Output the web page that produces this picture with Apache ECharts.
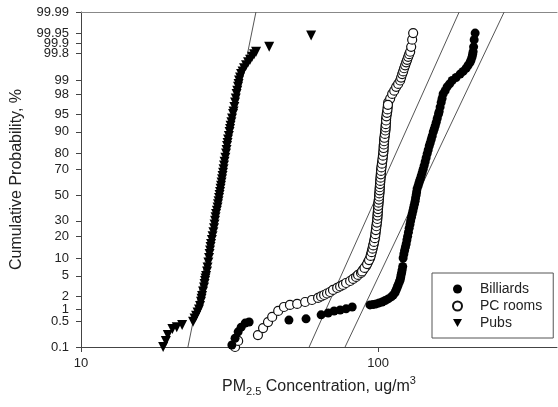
<!DOCTYPE html>
<html>
<head>
<meta charset="utf-8">
<script src="https://cdn.jsdelivr.net/npm/echarts@6/dist/echarts.min.js"></script>
<style>
html,body{margin:0;padding:0;background:#fff;}
#chart{width:558px;height:407px;}
</style>
</head>
<body>
<div id="chart"></div>
<script>
// ---------- data (concentration in ug/m3, cumulative probability in %) ----------
const yTickPct = [0.1,0.2,0.5,1,2,5,10,20,30,50,70,80,90,95,98,99,99.8,99.9,99.95,99.99];
const yTickLabels = ['0.1','0.2','0.5','1','2','5','10','20','30','50','70','80','90','95','98','99','99.8','99.9','99.95','99.99'];
const xMin = 10, xMax = 400;
const yMinPct = 0.1, yMaxPct = 99.99;

const pubsConc = [18.9,19.3,19.6,20.3,21.0,21.9,
  23.83,24.11,24.39,24.68,24.96,25.16,25.35,25.45,25.55,25.75,25.95,26.05,26.15,26.25,26.36,26.56,26.67,26.83,26.98,27.08,27.19,27.29,27.40,27.57,27.72,27.89,28.04,28.15,28.26,28.37,28.48,28.66,28.81,28.92,29.04,29.15,29.26,29.38,29.49,29.61,29.72,29.84,29.95,30.07,30.19,30.30,30.42,30.61,30.78,30.90,31.02,31.14,31.26,31.46,31.63,31.75,31.87,32.07,32.24,32.49,32.62,32.82,33.00,33.18,33.39,33.57,33.78,33.91,34.04,34.30,34.57,34.98,35.39,35.94,36.50,37.07,37.65,38.23,38.83,
  43.0,59.5];
const pubsPct = [0.1,0.15,0.22,0.32,0.36,0.41,
  0.5,0.6,0.7,0.85,1,1.2,1.5,1.75,2,2.5,3,3.5,4,4.5,5,6,7,8.5,10,11.5,13,14.5,16,18,20,22.5,25,27.5,30,32.5,35,37.5,40,42.5,45,47.5,50,52.5,55,57.5,60,62.5,65,67.5,70,72.5,75,77.5,80,82,84,85.5,87,88.5,90,91,92,93,94,95,95.5,96.3,97,97.5,98,98.3,98.6,98.8,99,99.15,99.3,99.4,99.5,99.58,99.65,99.7,99.75,99.79,99.82,
  99.87,99.94];

const pcConc = [33.0,33.8,39.4,41.0,42.6,44.0,46.1,48.2,50.5,53.4,56.8,59.9,62.8,64.3,65.8,67.3,68.9,70.5,72.8,74.5,76.2,78.0,80.5,82.4,84.3,85.6,87.6,89.0,91.1,92.5,
  93.98,94.71,95.45,96.05,96.57,97.18,97.71,98.09,98.47,98.85,99.23,99.46,99.62,99.85,100.0,100.2,100.4,100.7,100.8,101.1,101.2,101.4,101.6,101.8,102.0,102.2,102.4,102.8,103.2,103.6,104.0,104.3,104.4,104.7,104.8,105.2,105.6,105.9,106.0,106.3,106.4,106.9,107.3,107.7,108.1,109.8,111.5,113.3,115.0,116.8,118.6,119.5,120.5,121.4,122.3,123.3,124.3,125.2,126.2,127.2,128.2,129.2,130.2,131.2,
  88.3,90.0,91.8,93.2,94.35,95.1,95.75,96.3,96.9,97.45,97.9,98.3,98.65,99.05,99.35,99.55,99.75,99.92,100.1,100.3,100.55,100.75,100.95,101.15,101.3,101.5,101.7,101.9,102.1,102.3,102.6,103.0,103.4,103.8,104.15,104.35,104.55,104.75,105.0,105.4,105.75,105.95,106.15,106.35,106.65,107.1,107.5,107.9];
const pcPct = [0.1,0.15,0.22,0.34,0.49,0.66,0.92,1.14,1.27,1.34,1.48,1.64,1.82,1.96,2.1,2.26,2.43,2.68,2.94,3.15,3.37,3.68,4.02,4.39,4.78,5.2,5.65,6.37,7.45,8.66,
  10,11.5,13,14.5,16,18,20,22.5,25,27.5,30,32.5,35,37.5,40,42.5,45,47.5,50,52.5,55,57.5,60,62.5,65,67.5,70,72.5,75,77.5,80,82,84,85.5,87,88.5,90,91,92,93,94,95,95.5,96.3,97,97.5,98,98.3,98.6,98.8,99,99.15,99.3,99.4,99.5,99.58,99.65,99.7,99.75,99.79,99.82,99.87,99.92,99.95,
  6.0,6.9,8.0,9.3,10.75,12.25,13.75,15.25,17,19,21.25,23.75,26.25,28.75,31.25,33.75,36.25,38.75,41.25,43.75,46.25,48.75,51.25,53.75,56.25,58.75,61.25,63.75,66.25,68.75,71.25,73.75,76.25,78.75,81,83,84.75,86.25,87.75,89.25,90.5,91.5,92.5,93.5,94.5,95.25,95.9,96.65];

const billiardsConc = [32.2,33.0,33.8,34.6,35.7,36.8,50.1,57.2,64.3,67.9,71.1,74.5,78.0,81.8,
  93.9,96.2,98.5,100.8,103.2,105.6,108.1,110.7,112.4,114.1,115.0,115.9,116.8,117.7,118.6,119.1,119.5,120.0,120.5,121.0,
  121.4,122.1,122.8,123.6,124.3,125.0,125.7,126.5,127.2,128.0,128.7,129.5,130.2,131.0,131.7,132.5,133.2,133.7,134.3,134.8,135.3,136.4,137.4,138.5,139.6,140.7,141.8,142.9,144.0,145.1,146.3,147.4,148.6,149.7,150.9,152.1,153.3,154.5,155.7,156.9,158.1,159.7,160.5,161.7,163.0,164.2,165.5,168.1,170.7,174.0,177.5,183.0,188.8,193.2,197.8,200.9,204.0,205.6,207.2,208.0,208.8,209.6,210.5,212.1];
const billiardsPct = [0.115,0.18,0.27,0.36,0.46,0.49,0.55,0.59,0.74,0.82,0.92,0.97,1.03,1.14,
  1.27,1.30,1.34,1.41,1.48,1.60,1.73,1.91,2.1,2.37,2.68,3.0,3.37,3.77,4.2,4.68,5.2,5.76,6.4,7.31,
  10,11.5,13,14.5,16,18,20,22.5,25,27.5,30,32.5,35,37.5,40,42.5,45,47.5,50,52.5,55,57.5,60,62.5,65,67.5,70,72.5,75,77.5,80,82,84,85.5,87,88.5,90,91,92,93,94,95,95.5,96.3,97,97.5,98,98.3,98.6,98.8,99,99.15,99.3,99.4,99.5,99.58,99.65,99.7,99.75,99.79,99.82,99.87,99.92,99.95];

// fitted reference lines: concentration at 0.1 % and at 99.99 %
const fitPubs = [22.9, 38.8];
const fitPC = [58.6, 187.4];
const fitBilliards = [77.4, 265.6];

// ---------- probit (inverse normal CDF, Acklam) ----------
function probit(p){
  const a=[-3.969683028665376e+01,2.209460984245205e+02,-2.759285104469687e+02,1.383577518672690e+02,-3.066479806614716e+01,2.506628277459239e+00];
  const b=[-5.447609879822406e+01,1.615858368580409e+02,-1.556989798598866e+02,6.680131188771972e+01,-1.328068155288572e+01];
  const c=[-7.784894002430293e-03,-3.223964580411365e-01,-2.400758277161838e+00,-2.549732539343734e+00,4.374664141464968e+00,2.938163982698783e+00];
  const d=[7.784695709041462e-03,3.224671290700398e-01,2.445134137142996e+00,3.754408661907416e+00];
  const pl=0.02425, ph=1-pl; let q,r;
  if(p<pl){q=Math.sqrt(-2*Math.log(p));return (((((c[0]*q+c[1])*q+c[2])*q+c[3])*q+c[4])*q+c[5])/((((d[0]*q+d[1])*q+d[2])*q+d[3])*q+1);}
  if(p<=ph){q=p-0.5;r=q*q;return (((((a[0]*r+a[1])*r+a[2])*r+a[3])*r+a[4])*r+a[5])*q/(((((b[0]*r+b[1])*r+b[2])*r+b[3])*r+b[4])*r+1);}
  q=Math.sqrt(-2*Math.log(1-p));return -(((((c[0]*q+c[1])*q+c[2])*q+c[3])*q+c[4])*q+c[5])/((((d[0]*q+d[1])*q+d[2])*q+d[3])*q+1);
}
const z = pct => probit(pct/100);
const pairs = (xs, ps) => xs.map((x,i)=>[x, z(ps[i])]);
const yTickZ = yTickPct.map(z);
const yLo = z(yMinPct), yHi = z(yMaxPct);
function zLabel(v){
  let best=0, bd=1e9;
  yTickZ.forEach((t,i)=>{const dd=Math.abs(t-v); if(dd<bd){bd=dd;best=i;}});
  return bd<1e-4 ? yTickLabels[best] : '';
}
const fitSeries = f => ({type:'line', data:[[f[0], yLo],[f[1], yHi]], symbol:'none', silent:true,
  lineStyle:{color:'#555', width:1}, z:1});

const font = 'Arial, "Liberation Sans", sans-serif';
const chart = echarts.init(document.getElementById('chart'), null, {renderer:'canvas'});
chart.setOption({
  animation:false,
  backgroundColor:'#fff',
  grid:{left:81, top:12, right:1, bottom:60, containLabel:false},
  legend:{
    orient:'vertical', left:432, top:273,
    padding:[9,11,8,20], itemGap:3, itemWidth:9, itemHeight:9,
    borderColor:'#555', borderWidth:1, backgroundColor:'#fff',
    textStyle:{fontFamily:font, fontSize:14, color:'#222', lineHeight:14, padding:[0,0,0,13]},
    data:[{name:'Billiards'},{name:'PC rooms'},{name:'Pubs', icon:'path://M0,0 L10,0 L5,9 Z'}]
  },
  xAxis:[{
    type:'log', logBase:10, min:xMin, max:xMax,
    name:'{n|PM}{sub|2.5}{n| Concentration, ug/m}{sup|3}',
    nameLocation:'middle', nameGap:32,
    nameTextStyle:{rich:{
      n:{fontFamily:font, fontSize:16, color:'#222', lineHeight:16, padding:[4,0,4,0]},
      sub:{fontFamily:font, fontSize:11, color:'#222', lineHeight:11, padding:[11,0,2,0]},
      sup:{fontFamily:font, fontSize:11, color:'#222', lineHeight:11, padding:[0,0,13,0]}
    }},
    axisLine:{onZero:false, lineStyle:{color:'#444', width:1}},
    axisTick:{length:5, lineStyle:{color:'#444'}},
    minorTick:{show:false},
    axisLabel:{fontFamily:font, fontSize:13, color:'#222', margin:10, showMaxLabel:false,
      formatter:v=>{const l=Math.log10(v); return Math.abs(l-Math.round(l))<1e-6 ? String(Math.round(v)) : '';}},
    splitLine:{show:false}
  },{
    type:'log', logBase:10, min:xMin, max:xMax, position:'top',
    axisLine:{onZero:false, lineStyle:{color:'#888', width:1}},
    axisTick:{show:false}, axisLabel:{show:false}, splitLine:{show:false}
  }],
  yAxis:{
    type:'value', min:yLo-1e-9, max:yHi+1e-9,
    name:'Cumulative Probability, %', nameLocation:'middle', nameGap:56,
    nameTextStyle:{fontFamily:font, fontSize:16, color:'#222'},
    axisLine:{show:true, onZero:false, lineStyle:{color:'#444', width:1}},
    axisTick:{show:true, length:5, lineStyle:{color:'#444'}, customValues:yTickZ},
    axisLabel:{fontFamily:font, fontSize:13, color:'#222', margin:12, customValues:yTickZ, formatter:zLabel,
      showMinLabel:true, showMaxLabel:true, hideOverlap:false},
    splitLine:{show:false}
  },
  series:[
    fitSeries(fitPubs), fitSeries(fitPC), fitSeries(fitBilliards),
    {name:'Pubs', type:'scatter', data:pairs(pubsConc,pubsPct), symbol:'triangle', symbolRotate:180, symbolSize:10,
      itemStyle:{color:'#000', opacity:1}, z:3},
    {name:'PC rooms', type:'scatter', data:pairs(pcConc,pcPct), symbol:'circle', symbolSize:9,
      itemStyle:{color:'#fff', borderColor:'#111', borderWidth:1.2, opacity:1}, z:3},
    {name:'Billiards', type:'scatter', data:pairs(billiardsConc,billiardsPct), symbol:'circle', symbolSize:9,
      itemStyle:{color:'#000', opacity:1}, z:4}
  ]
});
</script>
</body>
</html>
